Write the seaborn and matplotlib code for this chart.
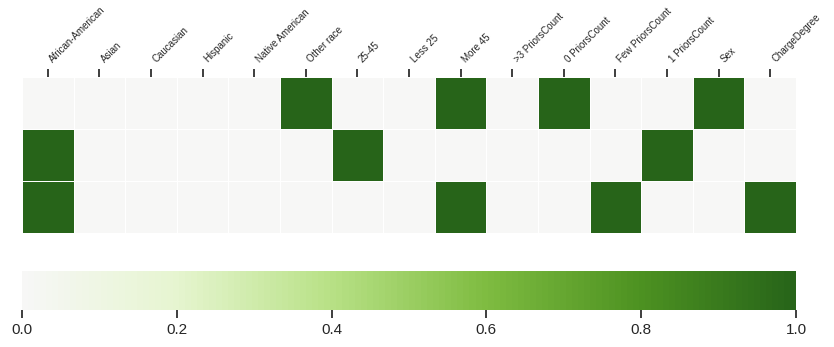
import numpy as np
import pandas as pd
import matplotlib
matplotlib.use('Agg')
import matplotlib.pyplot as plt
import seaborn as sns

# Feature names along the top
features = ['African-American', 'Asian', 'Caucasian', 'Hispanic', 'Native American',
            'Other race', '25-45', 'Less 25', 'More 45', '>3 PriorsCount',
            '0 PriorsCount', 'Few PriorsCount', '1 PriorsCount', 'Sex', 'ChargeDegree']

# Which features are active in each of the three rows
row_1 = [0, 0, 0, 0, 0, 1, 0, 0, 1, 0, 1, 0, 0, 1, 0]
row_2 = [1, 0, 0, 0, 0, 0, 1, 0, 0, 0, 0, 0, 1, 0, 0]
row_3 = [1, 0, 0, 0, 0, 0, 0, 0, 1, 0, 0, 1, 0, 0, 1]

data = pd.DataFrame([row_1, row_2, row_3], columns=features)

sns.set_theme(style='ticks')
plt.rcParams['font.family'] = ['Liberation Sans', 'DejaVu Sans']

fig = plt.figure(figsize=(8.34, 3.47), dpi=100)
ax = fig.add_axes([0.0264, 0.3285, 0.928, 0.4496])
cax = fig.add_axes([0.0264, 0.1066, 0.928, 0.1124])

sns.heatmap(data, cmap='PiYG', center=0, vmin=0, vmax=1, linewidths=0.5,
            linecolor='white', yticklabels=False, ax=ax, cbar_ax=cax,
            cbar_kws={'orientation': 'horizontal'})

ax.xaxis.tick_top()
ax.set_xticklabels(features, rotation=45, ha='left', va='bottom', fontsize=7)
ax.tick_params(axis='x', length=6, width=1.25, pad=3)
ax.tick_params(axis='y', length=0)
cax.tick_params(labelsize=11, length=6, width=1.25)
cax.set_xticks([0, 0.2, 0.4, 0.6, 0.8, 1.0])

fig.savefig('out.png', dpi=100)
